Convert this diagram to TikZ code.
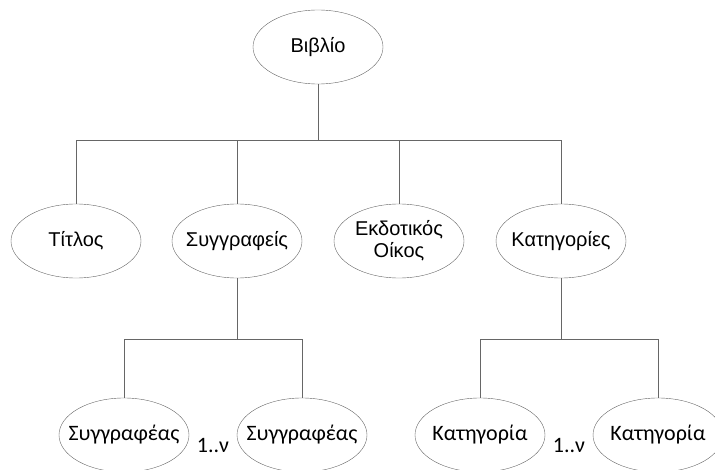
\documentclass[tikz,border=0pt]{standalone}
\usepackage{fontspec}
\setmainfont{Liberation Sans}
\newfontfamily\carlito{Carlito}
\usetikzlibrary{shapes.geometric}
\tikzset{
  entity/.style={draw=black!60, ellipse, minimum width=130pt, minimum height=74pt, inner xsep=-20pt, inner ysep=0pt, align=center, font=\fontsize{20}{22}\selectfont},
  part/.style={entity, font=\carlito\fontsize{22}{24}\selectfont},
  link/.style={draw=black!60, line width=0.8pt}
}
\begin{document}
\begin{tikzpicture}[x=1pt,y=-1pt]
\useasboundingbox (0,0) rectangle (715,470);
\node[entity] (book) at (318,47) {Βιβλίο};
\node[entity] (title) at (76,241) {Τίτλος};
\node[entity] (authors) at (237,241) {Συγγραφείς};
\node[entity] (publisher) at (399,241) {Εκδοτικός\\Οίκος};
\node[entity] (cats) at (561,241) {Κατηγορίες};
\node[part] (author1) at (124,435) {Συγγραφέας};
\node[part] (author2) at (302,435) {Συγγραφέας};
\node[part] (cat1) at (480,435) {Κατηγορία};
\node[part] (cat2) at (658,435) {Κατηγορία};
\node[font=\carlito\fontsize{22}{24}\selectfont] (many1) at (213,446) {1..ν};
\node[font=\carlito\fontsize{22}{24}\selectfont] (many2) at (569,446) {1..ν};
\coordinate (hub1) at (318,140);
\coordinate (hub2) at (237,339);
\coordinate (hub3) at (561,339);
\draw[link] (book) -- (hub1);
\draw[link] (title) |- (hub1);
\draw[link] (authors) |- (hub1);
\draw[link] (publisher) |- (hub1);
\draw[link] (cats) |- (hub1);
\draw[link] (authors) -- (hub2);
\draw[link] (author1) |- (hub2);
\draw[link] (author2) |- (hub2);
\draw[link] (cats) -- (hub3);
\draw[link] (cat1) |- (hub3);
\draw[link] (cat2) |- (hub3);
\end{tikzpicture}
\end{document}
